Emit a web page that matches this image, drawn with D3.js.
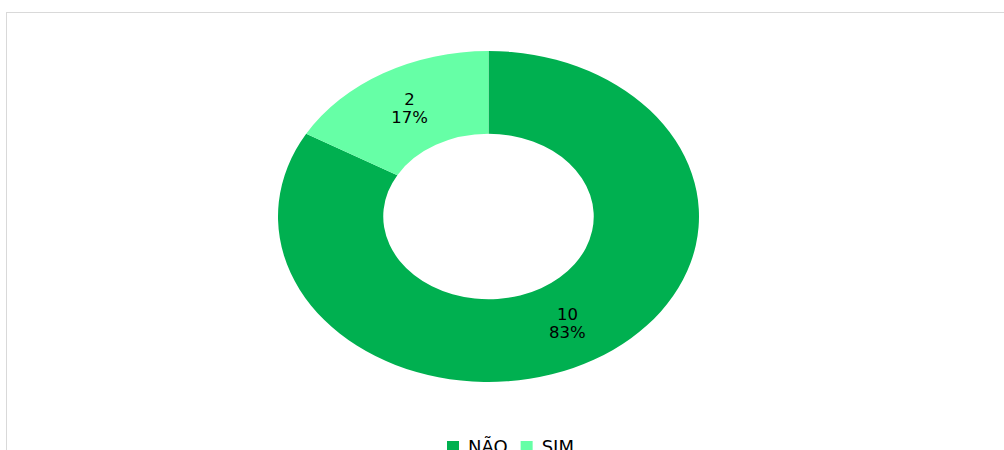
<!DOCTYPE html>
<html><head><meta charset="utf-8">
<script src="https://cdn.jsdelivr.net/npm/d3@7"></script>
<style>body{margin:0;background:#fff;overflow:hidden}svg{display:block}</style>
</head><body>
<svg id="c" width="1004" height="450"></svg>
<script>
const categories = ["NÃO", "SIM"];
const values = [10, 2];
const colors = ["#00B050", "#66FFA6"];

const svg = d3.select("#c");
svg.append("rect").attr("x", 6.5).attr("y", 12.5).attr("width", 1010).attr("height", 460)
  .attr("fill", "#fff").attr("stroke", "#D9D9D9").attr("stroke-width", 1);

const cx = 488.5, cy = 216.5, rx = 210.5, ry = 165.5, inner = 0.5;
const total = d3.sum(values);
const data = categories.map((c, i) => ({cat: c, value: values[i], color: colors[i]}));
const pie = d3.pie().value(d => d.value).sort(null);
const arcs = pie(data);
const arc = d3.arc().innerRadius(rx * inner).outerRadius(rx);
const sy = ry / rx;

const g = svg.append("g").attr("transform", `translate(${cx},${cy}) scale(1,${sy})`);
g.selectAll("path").data(arcs).join("path").attr("d", arc).attr("fill", d => d.data.color);

const labelArc = d3.arc().innerRadius(rx * 0.75).outerRadius(rx * 0.75);
const lg = svg.append("g").attr("transform", `translate(${cx},${cy})`);
arcs.forEach(a => {
  const [x, y] = labelArc.centroid(a);
  const yy = y * sy;
  const common = t => t.attr("text-anchor", "middle").attr("font-family", "DejaVu Sans, sans-serif")
    .attr("font-size", 16.5).attr("fill", "#000");
  common(lg.append("text").attr("x", x).attr("y", yy - 4)).text(a.data.value);
  common(lg.append("text").attr("x", x).attr("y", yy + 14)).text(Math.round(a.data.value / total * 100) + "%");
});

// legend
const legend = svg.append("g");
let lx = 447;
data.forEach(d => {
  legend.append("rect").attr("x", lx).attr("y", 441).attr("width", 12).attr("height", 12).attr("fill", d.color);
  const t = legend.append("text").attr("x", lx + 21).attr("y", 453)
    .attr("font-family", "DejaVu Sans, sans-serif").attr("font-size", 18).attr("fill", "#000").text(d.cat);
  lx += 21 + t.node().getComputedTextLength() + 13;
});
</script>
</body></html>
